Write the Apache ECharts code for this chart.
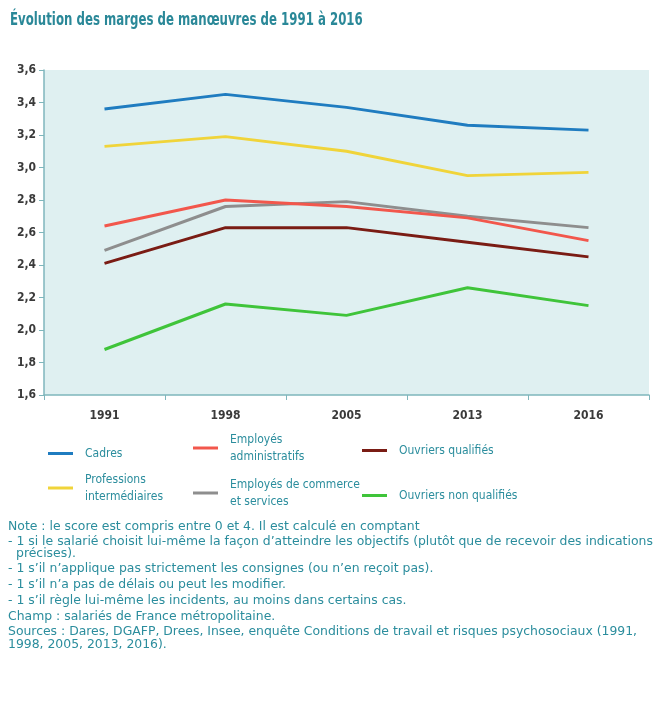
<!DOCTYPE html>
<html>
<head>
<meta charset="utf-8">
<script src="https://cdn.jsdelivr.net/npm/echarts@6/dist/echarts.min.js"></script>
<style>
  html, body { margin: 0; padding: 0; background: #fff; }
  #chart { width: 661px; height: 711px; }
</style>
</head>
<body>
<div id="chart"></div>
<script>
let d = document;

// donnees
let annees = ["1991", "1998", "2005", "2013", "2016"];
let cadres = [3.36, 3.45, 3.37, 3.26, 3.23];
let profInter = [3.13, 3.19, 3.10, 2.95, 2.97];
let empAdmin = [2.64, 2.80, 2.76, 2.69, 2.55];
let empCommerce = [2.49, 2.76, 2.79, 2.70, 2.63];
let ouvQualif = [2.41, 2.63, 2.63, 2.54, 2.45];
let ouvNonQualif = [1.88, 2.16, 2.09, 2.26, 2.15];

let noms = ["Cadres", "Professions intermédiaires", "Employés administratifs",
  "Employés de commerce et services", "Ouvriers qualifiés", "Ouvriers non qualifiés"];
let etiquettes = {
  "Cadres": "Cadres",
  "Professions intermédiaires": "Professions\nintermédiaires",
  "Employés administratifs": "Employés\nadministratifs",
  "Employés de commerce et services": "Employés de commerce\net services",
  "Ouvriers qualifiés": "Ouvriers qualifiés",
  "Ouvriers non qualifiés": "Ouvriers non qualifiés"
};
let couleurs = ["#1f7cc0", "#f0d43a", "#f2574c", "#8e8e8e", "#7a1c14", "#3fc43a"];
let valeurs = [cadres, profInter, empAdmin, empCommerce, ouvQualif, ouvNonQualif];

let titre = "Évolution des marges de manœuvres de 1991 à 2016";
let notes = [
  "Note : le score est compris entre 0 et 4. Il est calculé en comptant",
  "- 1 si le salarié choisit lui-même la façon d’atteindre les objectifs (plutôt que de recevoir des indications",
  "précises).",
  "- 1 s’il n’applique pas strictement les consignes (ou n’en reçoit pas).",
  "- 1 s’il n’a pas de délais ou peut les modifier.",
  "- 1 s’il règle lui-même les incidents, au moins dans certains cas.",
  "Champ : salariés de France métropolitaine.",
  "Sources : Dares, DGAFP, Drees, Insee, enquête Conditions de travail et risques psychosociaux (1991,",
  "1998, 2005, 2013, 2016)."
];
let notesY = [527, 542, 554, 569, 585, 601, 617, 632, 645];
let notesX = [8, 8, 16, 8, 8, 8, 8, 8, 8];

let teal = "#2b8d9d";
let police = "'DejaVu Sans Condensed', 'Liberation Sans', sans-serif";

let chart = echarts.init(d.getElementById("chart"), null, { renderer: "canvas" });

// une legende par element pour les placer comme l'original
let posLegende = [
  { left: 48, top: 445 }, { left: 48, top: 471 },
  { left: 193, top: 431 }, { left: 193, top: 476 },
  { left: 362, top: 442 }, { left: 362, top: 487 }
];
let legendes = noms.map((n, i) => ({
  data: [n],
  left: posLegende[i].left,
  top: posLegende[i].top,
  padding: 0,
  orient: "horizontal",
  itemWidth: 25,
  itemHeight: 3,
  icon: "rect",
  selectedMode: false,
  formatter: (name) => etiquettes[name],
  textStyle: { color: teal, fontSize: 12, fontFamily: police, padding: [0, 0, 0, 7], lineHeight: 17 }
}));

let series = noms.map((n, i) => ({
  name: n,
  type: "line",
  data: valeurs[i],
  symbol: "none",
  lineStyle: { width: 3, color: couleurs[i] },
  itemStyle: { color: couleurs[i] },
  z: i == 2 ? 3 : 2
}));

// textes du bas, etires un peu en largeur
let graphiques = notes.map((t, i) => ({
  type: "text",
  x: notesX[i],
  y: notesY[i] - 6,
  scaleX: 1.15,
  style: { text: t, fill: teal, font: "12px " + police }
}));
graphiques.push({
  type: "text",
  x: 10,
  y: 12,
  scaleX: 0.77,
  style: { text: titre, fill: "#2a8898", font: "bold 17px " + police }
});

chart.setOption({
  animation: false,
  backgroundColor: "#ffffff",
  grid: {
    left: 44, right: 12, top: 70, bottom: 316,
    show: true, backgroundColor: "#dff0f1", borderWidth: 0
  },
  legend: legendes,
  xAxis: {
    type: "category",
    data: annees,
    boundaryGap: true,
    axisLine: { lineStyle: { color: "#7fb6bc", width: 1.5 } },
    axisTick: { show: true, length: 5, lineStyle: { color: "#7fb6bc" } },
    axisLabel: { color: "#3a3a3a", fontSize: 12, fontWeight: "bold", fontFamily: police, margin: 15 }
  },
  yAxis: {
    type: "value",
    min: 1.6,
    max: 3.6,
    interval: 0.2,
    splitLine: { show: false },
    axisLine: { show: true, lineStyle: { color: "#7fb6bc", width: 1.5 } },
    axisTick: { show: true, length: 5, lineStyle: { color: "#7fb6bc" } },
    axisLabel: {
      color: "#3a3a3a", fontSize: 12, fontWeight: "bold", fontFamily: police, margin: 8,
      formatter: (v) => v.toFixed(1).replace(".", ",")
    }
  },
  series: series,
  graphic: graphiques
});
</script>
</body>
</html>
